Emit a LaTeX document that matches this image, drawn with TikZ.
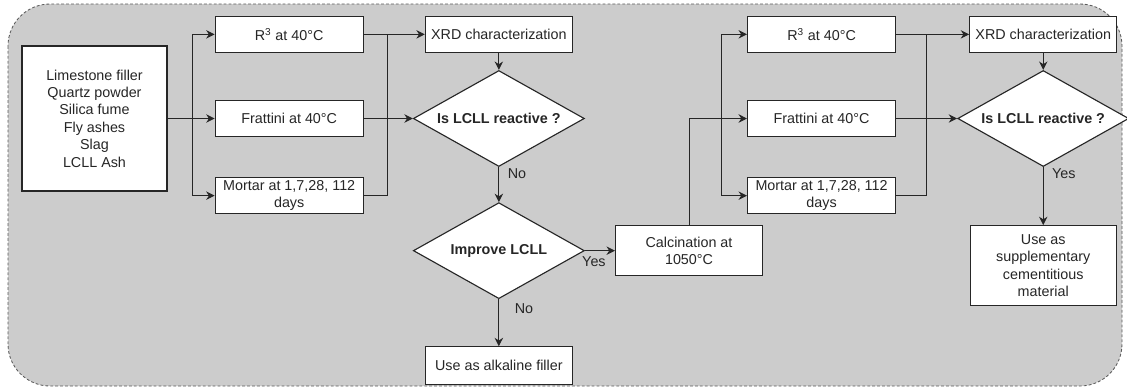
\documentclass[tikz,border=0pt]{standalone}
\usepackage{fontspec}
\setmainfont{Liberation Sans}
\usetikzlibrary{shapes.geometric, arrows.meta, positioning, calc}
\definecolor{panelgray}{RGB}{204, 204, 204}
\definecolor{edgegray}{RGB}{38, 38, 38}
\definecolor{dashgray}{RGB}{90, 90, 90}
\tikzset{
  box/.style={rectangle, draw=edgegray, fill=white, line width=0.8pt, text=edgegray,
              minimum width=#1, align=center, minimum height=0.9cm, inner sep=1pt,
              font=\fontsize{10.2pt}{12.4pt}\selectfont},
  box/.default=3.7cm,
  decision/.style={diamond, draw=edgegray, fill=white, line width=0.8pt, aspect=1.8,
                   minimum width=4.275cm, minimum height=2.4cm, inner sep=1pt, align=center,
                   text=edgegray, font=\fontsize{10.2pt}{12.4pt}\selectfont\bfseries},
  arrow/.style={-{Stealth[length=6pt, width=6pt]}, line width=0.7pt, color=edgegray},
  link/.style={line width=0.7pt, color=edgegray},
  lbl/.style={font=\fontsize{10.2pt}{12.4pt}\selectfont, text=edgegray, inner sep=1pt},
}

\begin{document}
\begin{tikzpicture}[x=0.025cm, y=-0.025cm]
  \useasboundingbox (0,0) rectangle (1127,390);
  \draw[fill=panelgray, draw=dashgray, line width=0.6pt, dash pattern=on 2pt off 1.5pt,
        rounded corners=1.05cm] (8,4) rectangle (1122,386);

  \node[box=3.625cm, minimum height=3.625cm] (src) at (94.5,118.5)
       {Limestone filler\\Quartz powder\\Silica fume\\Fly ashes\\Slag\\LCLL Ash};
  \node[box, right=1.175cm of src] (frat1) {Frattini at 40°C};
  \node[box, above=1.175cm of frat1] (r31) {R\textsuperscript{3} at 40°C};
  \node[box, below=1cm of frat1] (mor1) {Mortar at 1,7,28, 112\\days};
  \node[decision, right=1.225cm of frat1] (dec1) {Is LCLL reactive ?};
  \node[box=3.675cm, above=0.425cm of dec1] (xrd1) {XRD characterization};
  \node[decision, below=0.875cm of dec1] (imp) {Improve LCLL};
  \node[box=3.675cm, minimum height=0.95cm, below=1.175cm of imp] (alk) {Use as alkaline filler};
  \node[box=3.675cm, minimum height=1.25cm, right=0.75cm of imp] (calc) {Calcination at\\1050°C};

  \node[box, right=4.05cm of dec1] (frat2) {Frattini at 40°C};
  \node[box, above=1.175cm of frat2] (r32) {R\textsuperscript{3} at 40°C};
  \node[box, below=1cm of frat2] (mor2) {Mortar at 1,7,28, 112\\days};
  \node[decision, right=1.525cm of frat2] (dec2) {Is LCLL reactive ?};
  \node[box=3.675cm, above=0.425cm of dec2] (xrd2) {XRD characterization};
  \node[box=3.65cm, minimum height=2cm, below=1.45cm of dec2] (use)
       {Use as\\supplementary\\cementitious\\material};

  \coordinate (sp1) at ($(frat1.west)+(-0.55cm,0)$);
  \coordinate (col1) at ($(r31.east)+(0.6cm,0)$);
  \coordinate (sp2) at ($(frat2.west)+(-0.625cm,0)$);
  \coordinate (col2) at ($(r32.east)+(0.75cm,0)$);

  % first round of tests
  \draw[arrow] (src) -- (frat1);
  \foreach \target in {r31, mor1}
    \draw[arrow] (sp1) |- (\target);
  \draw[arrow] (r31) -- (xrd1);
  \draw[link] (mor1) -| (col1);
  \draw[arrow] (frat1) -- (dec1);
  \draw[arrow] (xrd1) -- (dec1);
  \draw[arrow] (dec1) -- node[lbl, pos=0.2, right=5pt] {No} (imp);
  \draw[arrow] (imp) -- node[lbl, pos=0.3, below=3pt] {Yes} (calc);
  \draw[arrow] (imp) -- node[lbl, pos=0.2, right=10pt] {No} (alk);

  % second round after calcination
  \draw[arrow] (calc) |- (frat2);
  \foreach \target in {r32, mor2}
    \draw[arrow] (sp2) |- (\target);
  \draw[arrow] (r32) -- (xrd2);
  \draw[link] (mor2) -| (col2);
  \draw[arrow] (frat2) -- (dec2);
  \draw[arrow] (xrd2) -- (dec2);
  \draw[arrow] (dec2) -- node[lbl, pos=0.12, right=5pt] {Yes} (use);
\end{tikzpicture}
\end{document}
